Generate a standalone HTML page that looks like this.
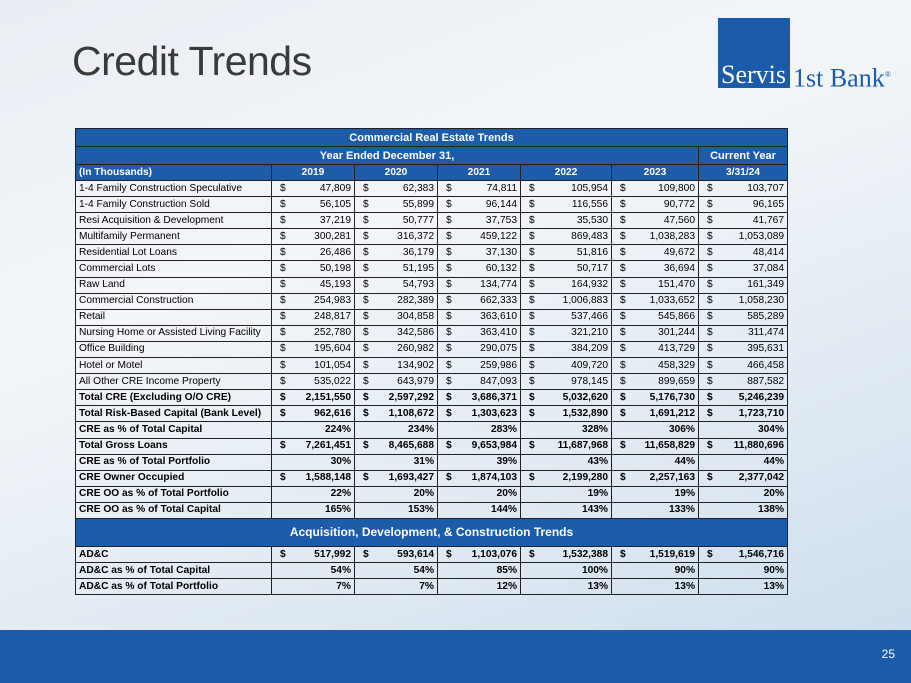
<!DOCTYPE html>
<html><head><meta charset="utf-8">
<style>
*{margin:0;padding:0;box-sizing:border-box}
body{width:911px;height:683px;overflow:hidden;position:relative;font-family:"Liberation Sans",Arial,sans-serif;
background:linear-gradient(160deg,#e9eef4 0%,#f3f6f9 35%,#dfe9f2 70%,#c9dced 100%);}
#title{position:absolute;left:72px;top:38px;font-size:41px;color:#3a3a3a;letter-spacing:-0.5px}
#logo{position:absolute;left:718px;top:18px;width:72px;height:70px;background:#1c5ba8}
.lt{position:absolute;top:60px;font-family:"Liberation Serif",serif;font-size:26px;line-height:30px}
#footer{position:absolute;left:0;top:630px;width:911px;height:53px;background:#1d5ca9}
#pg{position:absolute;right:16px;top:647px;color:#fff;font-size:12px}
table{position:absolute;left:75px;top:128px;width:712px;border-collapse:collapse;font-size:10.2px;color:#000;table-layout:fixed}
td{height:16.1px;padding:0 3px;border:1px solid #222;white-space:nowrap;line-height:14px}
tr.sec td{background:#1d5ca9;color:#fff;font-weight:bold;text-align:center;height:18px;font-size:11px}
tr.hd td{background:#1d5ca9;color:#fff;font-weight:bold;text-align:center;height:16px}
td.d{border-right:none;padding-left:8px;width:20px}
td.v{border-left:none;text-align:right}
td.p{text-align:right}
tr.b td{font-weight:bold}
tr.big td{background:#1d5ca9;color:#fff;font-weight:bold;text-align:center;height:28px;font-size:12px}
</style></head><body>
<div id="title">Credit Trends</div>
<div id="logo"></div>
<div class="lt" style="left:721px;color:#fff">Servis</div>
<div class="lt" style="left:793px;color:#1c5ba8">1st Bank<sup style="font-size:8px">®</sup></div>
<table id="t">
<colgroup><col style="width:196px"><col style="width:22px"><col style="width:61px"><col style="width:22px"><col style="width:61px"><col style="width:22px"><col style="width:61px"><col style="width:22px"><col style="width:69px"><col style="width:22px"><col style="width:65px"><col style="width:22px"><col style="width:67px"></colgroup>
<tbody id="tb"></tbody></table>
<div id="footer"></div>
<div id="pg">25</div>
<script>
const labels=["1-4 Family Construction Speculative","1-4 Family Construction Sold","Resi Acquisition & Development","Multifamily Permanent","Residential Lot Loans","Commercial Lots","Raw Land","Commercial Construction","Retail","Nursing Home or Assisted Living Facility","Office Building","Hotel or Motel","All Other CRE Income Property","Total CRE (Excluding O/O CRE)","Total Risk-Based Capital (Bank Level)","CRE as % of Total Capital","Total Gross Loans","CRE as % of Total Portfolio","CRE Owner Occupied","CRE OO as % of Total Portfolio","CRE OO as % of Total Capital"];
const values=[
["47,809","62,383","74,811","105,954","109,800","103,707"],
["56,105","55,899","96,144","116,556","90,772","96,165"],
["37,219","50,777","37,753","35,530","47,560","41,767"],
["300,281","316,372","459,122","869,483","1,038,283","1,053,089"],
["26,486","36,179","37,130","51,816","49,672","48,414"],
["50,198","51,195","60,132","50,717","36,694","37,084"],
["45,193","54,793","134,774","164,932","151,470","161,349"],
["254,983","282,389","662,333","1,006,883","1,033,652","1,058,230"],
["248,817","304,858","363,610","537,466","545,866","585,289"],
["252,780","342,586","363,410","321,210","301,244","311,474"],
["195,604","260,982","290,075","384,209","413,729","395,631"],
["101,054","134,902","259,986","409,720","458,329","466,458"],
["535,022","643,979","847,093","978,145","899,659","887,582"],
["2,151,550","2,597,292","3,686,371","5,032,620","5,176,730","5,246,239"],
["962,616","1,108,672","1,303,623","1,532,890","1,691,212","1,723,710"],
["224%","234%","283%","328%","306%","304%"],
["7,261,451","8,465,688","9,653,984","11,687,968","11,658,829","11,880,696"],
["30%","31%","39%","43%","44%","44%"],
["1,588,148","1,693,427","1,874,103","2,199,280","2,257,163","2,377,042"],
["22%","20%","20%","19%","19%","20%"],
["165%","153%","144%","143%","133%","138%"]];
const adcLabels=["AD&C","AD&C as % of Total Capital","AD&C as % of Total Portfolio"];
const adcValues=[["517,992","593,614","1,103,076","1,532,388","1,519,619","1,546,716"],["54%","54%","85%","100%","90%","90%"],["7%","7%","12%","13%","13%","13%"]];
const years=["2019","2020","2021","2022","2023","3/31/24"];
const tb=document.getElementById('tb');
function addRow(html,cls,name){const tr=document.createElement('tr');if(cls)tr.className=cls;tr.innerHTML=html;


tb.appendChild(tr);return tr;}
addRow('<td colspan="13">Commercial Real Estate Trends</td>','sec','table-title-row');
addRow('<td colspan="11">Year Ended December 31,</td><td colspan="2">Current Year</td>','sec','year-ended-row');
let h='<td style="text-align:left">(In Thousands)</td>';years.forEach(y=>h+='<td colspan="2">'+y+'</td>');
addRow(h,'hd','column-header-row');
function dataRow(lab,vals,bold,i,prefix){let s='<td>'+lab.replace(/&/g,'&amp;')+'</td>';
vals.forEach(v=>{if(v.indexOf('%')>=0)s+='<td colspan="2" class="p">'+v+'</td>';else s+='<td class="d">$</td><td class="v">'+v+'</td>';});
addRow(s,bold?'b':'',prefix+'-row-'+i);}
labels.forEach((l,i)=>dataRow(l,values[i],i>=13,i,'cre'));
addRow('<td colspan="13">Acquisition, Development, &amp; Construction Trends</td>','big','adc-section-header');
adcLabels.forEach((l,i)=>dataRow(l,adcValues[i],true,i,'adc'));
</script>
</body></html>
